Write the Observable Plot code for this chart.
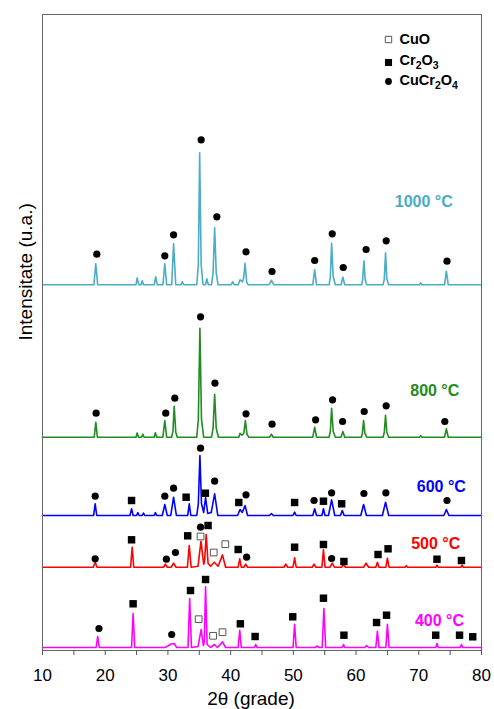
<!DOCTYPE html>
<html>
<head>
<meta charset="utf-8">
<script src="https://cdn.jsdelivr.net/npm/d3@7"></script>
<script src="https://cdn.jsdelivr.net/npm/@observablehq/plot@0.6"></script>
<style>
  html, body { margin: 0; padding: 0; background: #fff; }
  svg { display: block; }
</style>
</head>
<body>
<div id="chart"></div>
<script>
// ---- tick labels & categories ----
const thetaTicks = [10, 20, 30, 40, 50, 60, 70, 80];
const thetaMinor = [15, 25, 35, 45, 55, 65, 75];
const temps = ["400 °C", "500 °C", "600 °C", "800 °C", "1000 °C"];
const tempColors = ["#ff00ff", "#ff0000", "#0000ff", "#228b22", "#4bacc6"];
const offsets = [3, 83.3, 135, 213.3, 365.7];        // vertical stacking offset of each pattern (u.a.)
const labelTheta = [73.3, 72.7, 73.6, 72.55, 70.8];  // where each temperature label sits
const labelInt = [26.3, 23.4, 28.3, 46, 82.6];       // label height above its baseline (u.a.)
const legendNames = ["CuO", "Cr₂O₃", "CuCr₂O₄"];

// ---- diffraction patterns: [2θ, intensity above baseline] ----
const scan400 = [[10,0],[18.55,0],[18.8,11],[19.05,0],[24.2,0],[24.45,34],[24.7,0],[29.5,0],[30.0,1.5],[30.5,3.5],[31.0,4],[31.4,0],[33.2,0],[33.47,49],[33.75,0],[34.8,1],[35.3,18],[35.65,2],[35.8,5],[36.0,60.7],[36.25,3],[36.8,0],[37.4,3],[37.9,0],[38.7,5.6],[39.2,0],[41.2,0],[41.45,17.3],[41.7,0],[43.8,0],[44.0,3],[44.2,0],[49.95,0],[50.2,23.3],[50.45,0],[53.5,0],[53.8,1.5],[54.1,0],[54.6,0],[54.87,39],[55.15,0],[57.8,0],[58,3],[58.2,0],[61.4,0],[61.7,2],[62,0],[63.15,0],[63.4,16.3],[63.65,0],[64.75,0],[65.0,23.3],[65.25,0],[72.7,0],[72.9,4],[73.1,0],[76.6,0],[76.8,3],[77.0,0],[80,0]];
const scan500 = [[10,0],[18.1,0],[18.4,5],[18.7,0],[24.05,0],[24.3,20],[24.55,0],[29.3,0],[29.6,3],[29.9,0],[30.5,0],[30.9,4],[31.3,0],[33.1,0],[33.4,21.7],[33.7,0],[34.8,1],[35.27,26],[35.7,3],[35.85,6],[36.1,32.7],[36.4,4],[36.8,1],[37.4,5],[38.0,1],[38.7,12.3],[39.2,0],[41.2,0],[41.45,8.3],[41.7,0],[42.1,0],[42.4,3],[42.7,0],[48.5,0],[48.8,3],[49.1,0],[49.95,0],[50.2,9.3],[50.45,0],[53.0,0],[53.3,3],[53.6,0],[54.55,0],[54.8,17.3],[55.05,0],[55.85,0],[56.2,4],[56.55,0],[57.7,0],[58,3],[58.3,0],[61.2,0],[61.6,4],[62.0,0],[63.15,0],[63.4,5],[63.65,0],[64.75,0],[65.0,9],[65.25,0],[67.8,0],[68,1.5],[68.2,0],[72.7,0],[72.9,2],[73.1,0],[76.7,0],[76.9,2],[77.1,0],[80,0]];
const scan600 = [[10,0],[18.15,0],[18.4,11.7],[18.65,0],[23.95,0],[24.2,6.7],[24.45,0],[25.0,0],[25.2,3],[25.4,0],[25.9,0],[26.1,2.5],[26.3,0],[27.8,0],[28,3],[28.2,0],[29.1,0],[29.5,11],[29.9,0],[30.45,0],[30.9,18.3],[31.35,0],[33.15,0],[33.4,11.7],[33.65,0],[34.6,0],[34.85,12],[35.1,60],[35.35,12],[35.7,3],[36.0,18],[36.35,2],[36.9,3],[37.45,21.7],[37.95,0],[41.1,0],[41.5,6],[41.85,3],[42.3,10],[42.7,0],[46.2,0],[46.5,2],[46.8,0],[49.95,0],[50.2,3.3],[50.45,0],[53.1,0],[53.4,6.7],[53.7,0],[54.55,0],[54.8,6.7],[55.05,0],[55.6,0],[56.1,15.7],[56.6,0],[57.5,0],[57.8,5],[58.1,0],[60.75,0],[61.2,11],[61.65,0],[64.2,0],[64.7,13.3],[65.2,0],[74.0,0],[74.4,6],[74.8,0],[80,0]];
const scan800 = [[10,0],[18.25,0],[18.5,15],[18.75,0],[24.9,0],[25.1,4.3],[25.3,0],[25.8,0],[26,3],[26.2,0],[27.8,0],[28,4.5],[28.2,0],[29.2,0],[29.5,16.7],[29.8,0],[30.6,0],[30.8,6],[31.0,31],[31.25,5],[31.5,0],[34.6,0],[34.85,18],[35.1,109],[35.35,18],[35.7,0],[36.95,0],[37.2,9],[37.45,43],[37.7,9],[38.05,0],[41.3,0],[41.5,4],[41.8,2],[42.1,4],[42.35,16.7],[42.6,3],[42.9,0],[46.2,0],[46.5,3],[46.8,0],[53.1,0],[53.4,10],[53.7,0],[55.7,0],[55.9,6],[56.1,29],[56.35,6],[56.7,0],[57.6,0],[57.9,5.7],[58.2,0],[60.85,0],[61.0,4],[61.2,16.7],[61.4,4],[61.7,0],[64.3,0],[64.5,5],[64.7,22],[64.9,5],[65.2,0],[70.1,0],[70.3,1.5],[70.5,0],[74.1,0],[74.4,8.3],[74.7,0],[80,0]];
const scan1000 = [[10,0],[18.2,0],[18.5,21],[18.8,0],[24.9,0],[25.1,7],[25.35,0],[25.7,0],[25.9,4],[26.1,0],[27.8,0],[28.05,8],[28.3,0],[29.2,0],[29.5,21],[29.8,0],[30.6,0],[30.9,41],[31.25,0],[32.1,0],[32.3,3],[32.5,0],[34.6,0],[34.85,20],[35.06,132],[35.3,20],[35.6,0],[36.0,0],[36.2,6],[36.45,0],[36.95,0],[37.2,12],[37.45,57],[37.7,12],[38.0,0],[40.1,0],[40.3,3],[40.6,0],[41.2,0],[41.5,5],[41.9,3],[42.1,8],[42.3,21.6],[42.55,3],[42.8,0],[46.1,0],[46.5,4.5],[46.9,0],[53.1,0],[53.4,15],[53.7,0],[55.7,0],[55.9,8],[56.1,41.6],[56.35,8],[56.7,0],[57.6,0],[57.9,7.6],[58.2,0],[60.9,0],[61.05,5],[61.25,24],[61.45,5],[61.7,0],[64.3,0],[64.5,6],[64.7,32],[64.9,6],[65.2,0],[70.1,0],[70.3,2],[70.5,0],[74.1,0],[74.4,13.6],[74.7,0],[80,0]];
const scans = [scan400, scan500, scan600, scan800, scan1000];

// ---- phase markers: [2θ, height above baseline] ----
const spinel400 = [[19.0,19],[30.6,13]];
const cr400 = [[24.45,43.7],[33.6,57],[36.0,68],[41.55,23.7],[43.9,11],[49.9,30.7],[54.8,49.3],[58.06,12.3],[63.27,25],[64.86,32.3],[72.7,12.3],[76.5,12.3],[78.6,10.7]];
const cuo400 = [[34.9,28.3],[37.2,11.7],[38.7,15.3]];
const spinel500 = [[18.4,8.4],[29.75,8],[31.2,14.7],[35.2,40],[42.55,10],[56.1,8.7]];
const cr500 = [[24.2,27.4],[33.15,31.4],[36.4,41.7],[41.2,17.7],[50.2,20],[54.8,22.7],[58.06,5.7],[63.5,12.7],[65.1,18.4],[72.9,8],[76.8,6.7]];
const cuo500 = [[35.2,30.7],[37.3,14.7],[39.15,23]];
const spinel600 = [[18.4,19.3],[29.5,19.3],[30.9,27.3],[35.2,67.3],[37.45,34.3],[42.45,20.7],[53.3,15],[56.1,22.7],[61.25,22],[64.75,22.7],[74.5,15]];
const cr600 = [[24.2,15],[32.9,18.3],[35.97,22.3],[41.3,13],[50.2,13],[54.8,14.3],[57.7,11.7]];
const spinel800 = [[18.55,24],[29.65,24],[31.1,39],[35.2,120.4],[37.5,54],[42.45,23.4],[46.6,13],[53.55,17.4],[56.25,37.4],[57.85,15.7],[61.3,25.7],[64.8,31.4],[74.15,15.7]];
const spinel1000 = [[18.66,30.6],[29.5,29],[30.9,50],[35.3,145],[37.8,68],[42.45,33],[46.6,13.3],[53.4,24.3],[56.2,51],[57.96,17.3],[61.6,35.3],[64.8,44],[74.5,23.6]];

const spinelSets = [spinel400, spinel500, spinel600, spinel800, spinel1000];
const crSets = [cr400, cr500, cr600, [], []];
const cuoSets = [cuo400, cuo500, [], [], []];

// ---- build tables ----
const toRows = (sets) => sets.flatMap((s, k) => s.map(([t, h]) => ({t, I: offsets[k] + h})));
const spinelRows = toRows(spinelSets);
const crRows = toRows(crSets);
const cuoRows = toRows(cuoSets);
const labelRows = temps.map((name, k) => ({name, t: labelTheta[k], I: offsets[k] + labelInt[k], color: tempColors[k]}));

const font = "'Liberation Sans', Arial, Helvetica, sans-serif";

const marks = [];
scans.forEach((s, k) => {
  marks.push(Plot.line(s.map(([t, v]) => ({t, I: offsets[k] + v})), {
    x: "t", y: "I", stroke: tempColors[k], strokeWidth: 1.6, strokeLinejoin: "round"
  }));
});
marks.push(
  Plot.dot(spinelRows, {x: "t", y: "I", r: 3.6, fill: "#000", stroke: "none"}),
  Plot.dot(crRows, {x: "t", y: "I", r: 4.2, symbol: "square", fill: "#000", stroke: "none"}),
  Plot.dot(cuoRows, {x: "t", y: "I", r: 3.8, symbol: "square", fill: "#fff", stroke: "#555", strokeWidth: 1}),
  ...labelRows.map(d => Plot.text([d], {x: "t", y: "I", text: "name", fill: d.color, fontSize: 16, fontWeight: "bold", textAnchor: "middle", lineAnchor: "middle"})),
  // legend (inside the frame, top-right)
  Plot.dot([legendNames[0]], {frameAnchor: "top-right", dx: -93, dy: 25, r: 3.6, symbol: "square", fill: "#fff", stroke: "#555", strokeWidth: 1}),
  Plot.dot([legendNames[1]], {frameAnchor: "top-right", dx: -93, dy: 48, r: 4.0, symbol: "square", fill: "#000"}),
  Plot.dot([legendNames[2]], {frameAnchor: "top-right", dx: -93, dy: 67, r: 3.4, fill: "#000"}),
  ...legendNames.map((n, i) => Plot.text([n], {frameAnchor: "top-right", dx: -82, dy: [25, 46, 66][i], text: d => d, textAnchor: "start", lineAnchor: "middle", fontSize: 14.5, fontWeight: "bold", fill: "#000"})),
  Plot.frame({stroke: "#666", strokeWidth: 1}),
  Plot.axisX(thetaTicks, {tickSize: 5, tickPadding: 13, fontSize: 17, label: null, stroke: "#555", fill: "#000"}),
  Plot.axisX(thetaMinor, {tickSize: 5, tickFormat: () => "", label: null, stroke: "#555"}),
  Plot.text(["2θ (grade)"], {frameAnchor: "bottom", dx: -11, dy: 48, text: d => d, fontSize: 19, lineAnchor: "middle", fill: "#000"}),
  Plot.text(["Intensitate (u.a.)"], {frameAnchor: "left", dx: -17, dy: 8, rotate: -90, text: d => d, fontSize: 19, lineAnchor: "middle", fill: "#000"})
);

const chart = Plot.plot({
  width: 494,
  height: 709,
  marginTop: 14,
  marginBottom: 59,
  marginLeft: 42,
  marginRight: 13,
  style: {fontFamily: font, background: "#fff", overflow: "visible"},
  x: {domain: [10, 80], axis: null},
  y: {domain: [0, 636], axis: null},
  marks
});

// render chemical subscripts (₂ ₃ ₄) as lowered, smaller digits
const subMap = {"₂": "2", "₃": "3", "₄": "4"};
d3.select(chart).selectAll("text").each(function () {
  const s = this.textContent;
  if (!/[₂₃₄]/.test(s)) return;
  const node = d3.select(this);
  node.text(null);
  let lowered = false;
  for (const ch of s) {
    const isSub = ch in subMap;
    const t = node.append("tspan").text(isSub ? subMap[ch] : ch);
    if (isSub) {
      t.attr("font-size", "10.5px");
      if (!lowered) { t.attr("dy", 4); lowered = true; }
    } else if (lowered) {
      t.attr("dy", -4); lowered = false;
    }
  }
});

document.getElementById("chart").appendChild(chart);
</script>
</body>
</html>
